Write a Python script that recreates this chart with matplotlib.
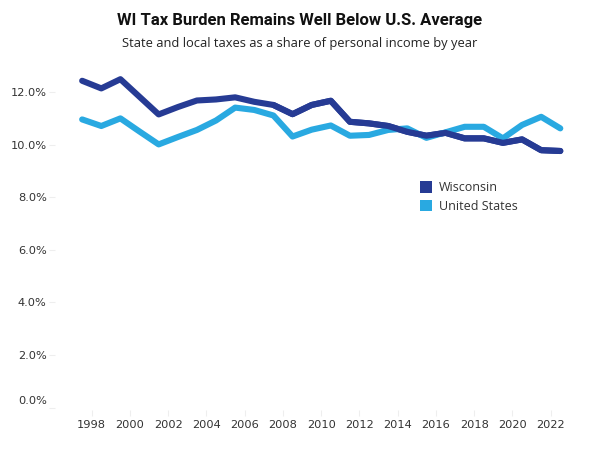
import matplotlib
matplotlib.use('Agg')
import matplotlib.pyplot as plt
import matplotlib.transforms as mtransforms
from matplotlib.patches import Patch
import numpy as np

# Data: tax burden (% of personal income)
years = list(range(1997, 2023))
wisconsin = [12.43, 12.14, 12.49, 11.82, 11.15, 11.43, 11.68, 11.72, 11.80, 11.63,
             11.51, 11.16, 11.51, 11.67, 10.87, 10.81, 10.71, 10.49, 10.34, 10.45,
             10.24, 10.24, 10.07, 10.20, 9.79, 9.76]
united_states = [10.96, 10.71, 11.00, 10.50, 10.01, 10.29, 10.56, 10.92, 11.41, 11.32,
                 11.11, 10.31, 10.57, 10.73, 10.34, 10.37, 10.56, 10.62, 10.26, 10.47,
                 10.68, 10.68, 10.24, 10.75, 11.06, 10.62]
tick_years = list(range(1998, 2023, 2))
y_ticks = [0, 2, 4, 6, 8, 10, 12]

wi_color = '#263b94'
us_color = '#29a9e1'
text_color = '#333333'

fig = plt.figure(figsize=(6, 4.5), dpi=100)
ax = fig.add_axes([55 / 600, 1 - 410 / 450, 525 / 600, 350 / 450])

# values are mid-year, so shift half a year off the tick labels
x = np.array(years) + 0.5
ax.plot(x, wisconsin, color=wi_color, lw=4.4, solid_capstyle='round', solid_joinstyle='round', zorder=2)
ax.plot(x, united_states, color=us_color, lw=4.4, solid_capstyle='round', solid_joinstyle='round', zorder=3)
# redraw WI on top where it crosses
ax.plot(x[10:], wisconsin[10:], color=wi_color, lw=4.4, solid_capstyle='round', solid_joinstyle='round', zorder=4)

ax.set_xlim(1996.08, 2023.53)
ax.set_ylim(-0.09, 13.22)
ax.set_xticks(tick_years)
ax.set_xticklabels([str(y) for y in tick_years])
ax.set_yticks(y_ticks)
ax.set_yticklabels(['%.1f%%' % v for v in y_ticks])

for s in ax.spines.values():
    s.set_visible(False)
ax.tick_params(axis='both', colors='#eeeeee', labelcolor=text_color, labelsize=8.2, length=4, width=0.8)
ax.tick_params(axis='x', pad=3)
ax.tick_params(axis='y', pad=2)

# 0.0% label sits a bit higher, like the original
lab0 = ax.get_yticklabels()[0]
lab0.set_transform(lab0.get_transform() + mtransforms.ScaledTranslation(0, 8 / 100, fig.dpi_scale_trans))

fig.text(0.5, 1 - 20 / 450, 'WI Tax Burden Remains Well Below U.S. Average', ha='center', va='center',
         fontsize=12, fontweight='bold', family='Roboto', color='#111111')
fig.text(0.5, 1 - 43 / 450, 'State and local taxes as a share of personal income by year', ha='center', va='center',
         fontsize=9.3, family='Open Sans', color='#222222')

handles = [Patch(facecolor=wi_color, label='Wisconsin'), Patch(facecolor=us_color, label='United States')]
leg = fig.legend(handles=handles, loc='upper left', bbox_to_anchor=(409 / 600, 1 - 170 / 450), frameon=False,
                 handlelength=0.9, handleheight=1.0, handletextpad=0.6, labelspacing=0.45,
                 prop={'family': 'Open Sans', 'size': 9})
for t in leg.get_texts():
    t.set_color(text_color)

fig.savefig('out.png', dpi=100)
